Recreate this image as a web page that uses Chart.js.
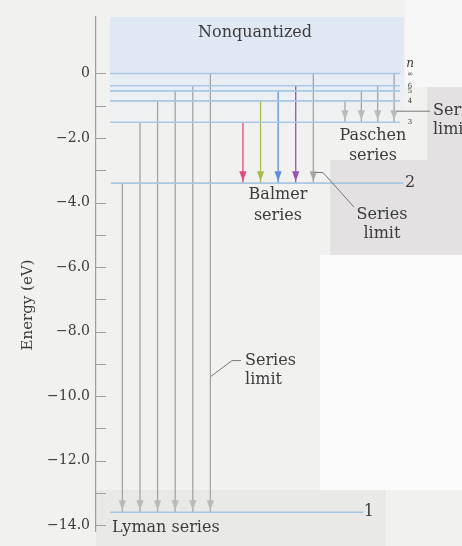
<!DOCTYPE html>
<html>
<head>
<meta charset="utf-8">
<script src="https://cdn.jsdelivr.net/npm/chart.js@4.4.0/dist/chart.umd.min.js"></script>
<style>
  html, body { margin: 0; padding: 0; background: #f1f1f0; }
</style>
</head>
<body>
<canvas id="levels" width="462" height="546"></canvas>
<script>
// hydrogen energy levels (eV)
const levelNames = ['1', '2', '3', '4', '5', '6', '∞'];
const levelEnergy = [-13.6, -3.4, -1.51, -0.85, -0.54, -0.38, 0];

// transitions, listed by upper level
const lymanFrom = ['2', '3', '4', '5', '6', '∞'];
const balmerFrom = ['3', '4', '5', '6', '∞'];
const paschenFrom = ['4', '5', '6', '∞'];

// y axis ticks
const yTicks = [0, -1, -2, -3, -4, -5, -6, -7, -8, -9, -10, -11, -12, -13, -14];

// colours
const balmerColors = ['#e2497f', '#a9bb4c', '#5f8fd9', '#9c4fb3', '#a4a4a4'];
const grayShaft = '#a4a4a4';
const grayHead = '#bababa';
const levelColor = '#a9c7e3';
const textColor = '#3c3c3c';
const serif = 'DejaVu Serif';

// horizontal layout in x units (1 unit = one arrow slot)
const xMax = 20.8;
const lymanX0 = 1.5, lymanStep = 1.0;
const balmerX0 = 8.35, balmerStep = 1.0;
const paschenX0 = 14.15, paschenStep = 0.93;

function E(name) {
    return levelEnergy[levelNames.indexOf(name)];
}

function levelExtent(name) {
    if (name === '1') return [0.8, 15.2];
    if (name === '2') return [0.85, 17.45];
    return [0.8, 17.27];
}

const levelSets = levelNames.map(function (n, i) {
    const ext = levelExtent(n);
    return {
        data: [{ x: ext[0], y: levelEnergy[i] }, { x: ext[1], y: levelEnergy[i] }],
        borderColor: levelColor,
        borderWidth: 1.6,
        pointRadius: 0,
        showLine: true
    };
});

function arrowSets(from, to, x0, step, colors) {
    return from.map(function (n, i) {
        const x = x0 + i * step;
        return {
            data: [{ x: x, y: E(n) }, { x: x, y: E(to) }],
            borderColor: colors ? colors[i] : grayShaft,
            borderWidth: 1.3,
            pointRadius: 0,
            showLine: true,
            arrow: true,
            headColor: colors ? colors[i] : grayHead
        };
    });
}

const arrows = []
    .concat(arrowSets(lymanFrom, '1', lymanX0, lymanStep))
    .concat(arrowSets(balmerFrom, '2', balmerX0, balmerStep, balmerColors))
    .concat(arrowSets(paschenFrom, '3', paschenX0, paschenStep));

// scanned page look
const pagePlugin = {
    id: 'page',
    beforeDraw: function (chart) {
        const ctx = chart.ctx;
        ctx.save();
        ctx.fillStyle = '#f1f1f0';
        ctx.fillRect(0, 0, 462, 546);
        ctx.fillStyle = '#f7f7f7';
        ctx.fillRect(405, 0, 57, 87);
        ctx.fillStyle = '#e3e1e1';
        ctx.fillRect(427, 87, 35, 75);
        ctx.fillRect(330, 160, 132, 95);
        ctx.fillStyle = '#fbfbfb';
        ctx.fillRect(320, 255, 142, 235);
        ctx.fillStyle = '#e9e9e8';
        ctx.fillRect(96, 490, 290, 56);
        ctx.restore();
    },
    beforeDatasetsDraw: function (chart) {
        // nonquantized band above E = 0
        const ctx = chart.ctx;
        const xs = chart.scales.x, ys = chart.scales.y;
        const left = xs.getPixelForValue(0.8), right = xs.getPixelForValue(17.5);
        const top = chart.chartArea.top, zero = ys.getPixelForValue(0);
        const low = ys.getPixelForValue(-1.7);
        ctx.save();
        ctx.fillStyle = '#dfe8f3';
        ctx.fillRect(left, top, right - left, zero - top);
        const g = ctx.createLinearGradient(0, zero, 0, low);
        g.addColorStop(0, '#e4ecf5');
        g.addColorStop(1, 'rgba(236,241,246,0)');
        ctx.fillStyle = g;
        ctx.fillRect(left, zero, right - left, low - zero);
        ctx.restore();
    }
};

// arrowheads on the lower end of each transition
const arrowPlugin = {
    id: 'arrowheads',
    afterDatasetsDraw: function (chart) {
        const ctx = chart.ctx;
        chart.data.datasets.forEach(function (ds, i) {
            if (!ds.arrow) return;
            const pt = chart.getDatasetMeta(i).data[1];
            const tipY = pt.y - 2;
            ctx.save();
            ctx.fillStyle = ds.headColor;
            ctx.beginPath();
            ctx.moveTo(pt.x, tipY);
            ctx.lineTo(pt.x - 3.6, tipY - 10);
            ctx.lineTo(pt.x + 3.6, tipY - 10);
            ctx.closePath();
            ctx.fill();
            ctx.restore();
        });
    }
};

function text(ctx, s, x, y, size, align, style) {
    ctx.font = (style || '') + ' ' + size + 'px "' + serif + '"';
    ctx.textAlign = align || 'center';
    ctx.textBaseline = 'middle';
    ctx.fillText(s, x, y);
}

// inner ticks, labels and leaders
const labelPlugin = {
    id: 'labels',
    afterDraw: function (chart) {
        const ctx = chart.ctx;
        const xs = chart.scales.x, ys = chart.scales.y;
        const px = function (v) { return xs.getPixelForValue(v); };
        const py = function (v) { return ys.getPixelForValue(v); };
        const axisX = chart.chartArea.left;

        ctx.save();
        ctx.strokeStyle = '#a0a0a0';
        ctx.lineWidth = 1;
        yTicks.forEach(function (v) {
            const y = Math.round(py(v)) + 0.5;
            ctx.beginPath();
            ctx.moveTo(axisX, y);
            ctx.lineTo(axisX + 10, y);
            ctx.stroke();
        });

        ctx.fillStyle = textColor;
        text(ctx, 'Nonquantized', px(9.04), py(1.26), 16);
        text(ctx, 'n', px(17.85), py(0.31), 12, 'center', 'italic');

        levelNames.forEach(function (n, i) {
            if (n === '1') text(ctx, n, px(15.5), py(levelEnergy[i]), 16);
            else if (n === '2') text(ctx, n, px(17.85), py(levelEnergy[i]), 16);
            else text(ctx, n, px(17.85), py(levelEnergy[i]) + (n === '∞' ? 1 : 0), 7);
        });

        text(ctx, 'Paschen', px(15.74), py(-1.93), 16);
        text(ctx, 'series', px(15.74), py(-2.55), 16);
        text(ctx, 'Balmer', px(10.34), py(-3.77), 16);
        text(ctx, 'series', px(10.34), py(-4.42), 16);
        text(ctx, 'Lyman series', px(0.91), py(-14.08), 16, 'left');

        // series limit notes
        ctx.strokeStyle = '#777';
        ctx.lineWidth = 1;
        ctx.beginPath();
        ctx.moveTo(px(17.1), py(-1.17));
        ctx.lineTo(px(18.98), py(-1.17));
        ctx.moveTo(px(12.5), py(-3.07));
        ctx.lineTo(px(12.9), py(-3.07));
        ctx.lineTo(px(14.66), py(-4.14));
        ctx.moveTo(px(6.53), py(-9.39));
        ctx.lineTo(px(7.73), py(-8.9));
        ctx.lineTo(px(8.24), py(-8.9));
        ctx.stroke();

        text(ctx, 'Series', px(19.15), py(-1.17), 16, 'left');
        text(ctx, 'limit', px(19.15), py(-1.75), 16, 'left');
        text(ctx, 'Series', px(16.25), py(-4.39), 16);
        text(ctx, 'limit', px(16.25), py(-4.97), 16);
        text(ctx, 'Series', px(8.47), py(-8.9), 16, 'left');
        text(ctx, 'limit', px(8.47), py(-9.51), 16, 'left');

        // axis title
        ctx.translate(28, 305);
        ctx.rotate(-Math.PI / 2);
        text(ctx, 'Energy (eV)', 0, 0, 15);
        ctx.restore();
    }
};

new Chart('levels', {
    type: 'scatter',
    data: { datasets: levelSets.concat(arrows) },
    options: {
        responsive: false,
        animation: false,
        devicePixelRatio: 1,
        layout: { padding: { top: 17, bottom: 9, left: 0, right: 0 } },
        plugins: { legend: { display: false }, tooltip: { enabled: false } },
        scales: {
            x: { type: 'linear', min: 0, max: xMax, display: false },
            y: {
                min: -14.2,
                max: 1.75,
                afterFit: function (s) { s.width = 96; },
                afterBuildTicks: function (s) {
                    s.ticks = yTicks.map(function (v) { return { value: v }; });
                },
                border: { display: true, color: '#9d9d9d', width: 1.2 },
                grid: { display: true, drawOnChartArea: false, drawTicks: false },
                ticks: {
                    padding: 6,
                    color: '#3c3c3c',
                    font: { family: serif, size: 14 },
                    callback: function (v) {
                        if (v === 0) return '0';
                        return v % 2 === 0 ? '\u2212' + Math.abs(v).toFixed(1) : '';
                    }
                }
            }
        }
    },
    plugins: [pagePlugin, arrowPlugin, labelPlugin]
});
</script>
</body>
</html>
